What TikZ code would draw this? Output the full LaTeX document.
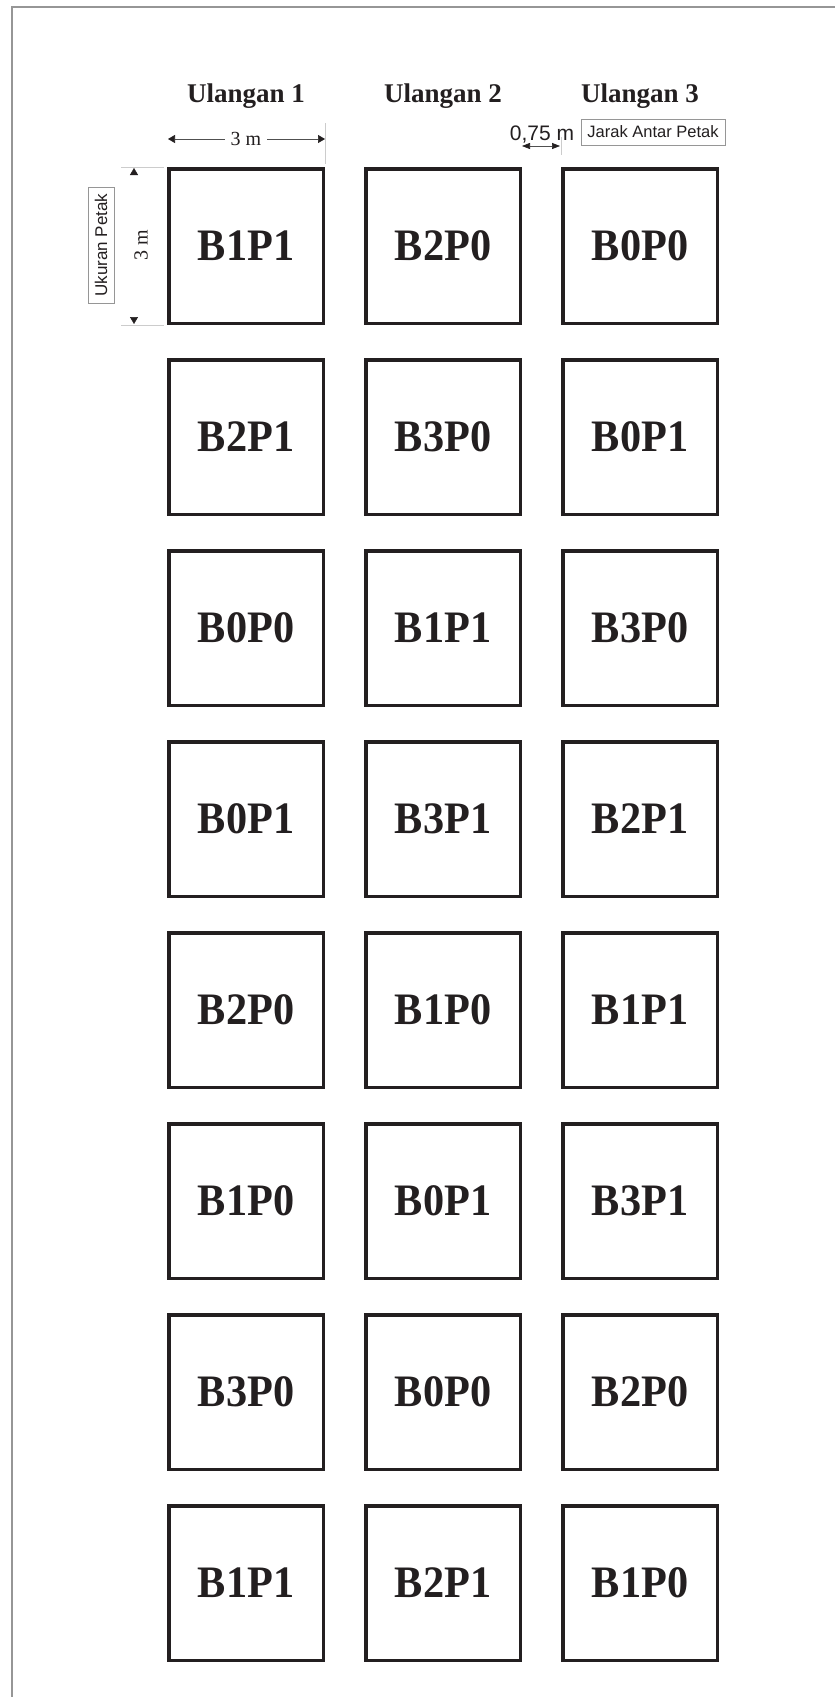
\documentclass[tikz,border=0pt]{standalone}
\usepackage{fontspec}
\setmainfont{Liberation Serif}
\setsansfont{Liberation Sans}
\usetikzlibrary{arrows.meta}
\definecolor{ink}{RGB}{35,31,32}
\definecolor{framegray}{RGB}{150,150,150}
\definecolor{dimgray}{RGB}{80,80,80}
\tikzset{
  plot/.style={draw=ink, line width=3.5pt, minimum width=154.5pt, minimum height=154.5pt, inner sep=0pt,
    text=ink, font=\fontsize{45}{45}\selectfont\bfseries},
  header/.style={anchor=base, text=ink, inner sep=0pt, font=\fontsize{27}{27}\selectfont\bfseries},
  labelbox/.style={draw=framegray, line width=0.8pt, inner sep=0pt, text=ink, font=\sffamily},
  dimline/.style={draw=dimgray, line width=0.7pt},
  dimtip/.style={{Triangle[length=7pt,width=8pt,color=ink]}-{Triangle[length=7pt,width=8pt,color=ink]}},
  extline/.style={draw=black!20, line width=0.6pt},
}
\begin{document}
\begin{tikzpicture}[x=1pt,y=-1pt]
\useasboundingbox (0,0) rectangle (835,1697);
\fill[white] (0,0) rectangle (835,1697);
% frame
\draw[framegray, line width=1.5pt] (12,1697) -- (12,7) -- (835,7);

% headers
\node[header] (u1) at (246,102) {Ulangan 1};
\node[header] (u2) at (443,102) {Ulangan 2};
\node[header] (u3) at (640,102) {Ulangan 3};

% plots
\foreach \r/\a/\b/\c [count=\i from 0] in {
  1/B1P1/B2P0/B0P0,
  2/B2P1/B3P0/B0P1,
  3/B0P0/B1P1/B3P0,
  4/B0P1/B3P1/B2P1,
  5/B2P0/B1P0/B1P1,
  6/B1P0/B0P1/B3P1,
  7/B3P0/B0P0/B2P0,
  8/B1P1/B2P1/B1P0}{
  \pgfmathsetmacro{\yy}{246+191*\i}
  \node[plot] (p\r-1) at (246,\yy) {\scalebox{0.94}[1]{\a}};
  \node[plot] (p\r-2) at (443,\yy) {\scalebox{0.94}[1]{\b}};
  \node[plot] (p\r-3) at (640,\yy) {\scalebox{0.94}[1]{\c}};
}

% horizontal 3 m dimension
\coordinate (h1) at (168,139);
\coordinate (h2) at (325,139);
\draw[extline] (325,123) -- (325,164);
\draw[dimline, dimtip] (h1) -- (h2);
\node[fill=white, inner xsep=6pt, inner ysep=2pt, text=ink, font=\fontsize{20}{20}\selectfont] (hlab) at (246,139) {3 m};

% vertical 3 m dimension
\coordinate (v1) at (134,168);
\coordinate (v2) at (134,324);
\draw[extline] (121,167) -- (164,167);
\draw[extline] (121,325) -- (164,325);
\draw[draw=white, line width=0.5pt, dimtip] (v1) -- (v2);
\node[rotate=90, text=ink, inner sep=0pt, font=\fontsize{20}{20}\selectfont] (vlab) at (141,245) {3 m};
\node[labelbox, rotate=90, minimum width=116pt, minimum height=26pt, font=\sffamily\fontsize{17}{17}\selectfont] (ukuran) at (101,245) {Ukuran Petak};

% 0,75 m spacing
\coordinate (g1) at (522,146);
\coordinate (g2) at (560,146);
\draw[extline] (561,137) -- (561,155);
\draw[dimline, {Triangle[length=8pt,width=6pt,color=ink]}-{Triangle[length=8pt,width=6pt,color=ink]}] (g1) -- (g2);
\node[anchor=base, inner sep=0pt, text=ink, font=\sffamily\fontsize{21}{21}\selectfont] (gap) at (542,140) {0,75 m};
\node[labelbox, minimum width=144pt, minimum height=26pt, font=\sffamily\fontsize{16.5}{16.5}\selectfont] (jarak) at (653,132) {Jarak Antar Petak};
\end{tikzpicture}
\end{document}
